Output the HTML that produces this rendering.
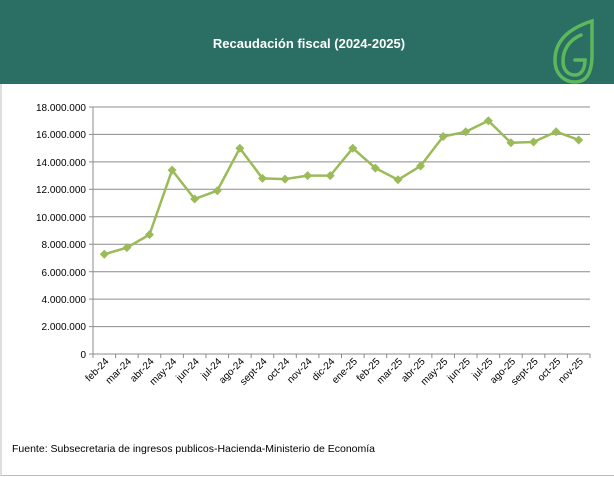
<!DOCTYPE html>
<html><head><meta charset="utf-8"><style>
html,body{margin:0;padding:0;background:#fff;}
svg{display:block;font-family:"Liberation Sans",sans-serif;}
</style></head><body>
<svg width="614" height="477" viewBox="0 0 614 477" xmlns="http://www.w3.org/2000/svg">
<rect x="0" y="0" width="614" height="477" fill="#fff"/>
<rect x="0" y="0" width="614" height="84" fill="#2b6e63"/>
<line x1="1" y1="84" x2="1" y2="476" stroke="#bdbdbd"/>
<line x1="1" y1="475.5" x2="614" y2="475.5" stroke="#bdbdbd"/>
<text x="309" y="48" text-anchor="middle" fill="#fff" font-size="13" font-weight="bold">Recaudación fiscal (2024-2025)</text>
<g fill="none" stroke="#5cb85c" stroke-width="3.5" stroke-linecap="round">
<path d="M592,21 C570,28 555,40 555,60 C555,75 565,82 575,82 C588,82 592,70 592,55 Z"/>
<path d="M581,35 C569,40 563,50 563,61 C563,70 568,75 575,75 C582,75 585,68 585,60 L575,60"/>
</g>
<g stroke="#8c8c8c" stroke-width="1">
<line x1="93" y1="107" x2="590" y2="107"/>
<line x1="93" y1="134.4" x2="590" y2="134.4"/>
<line x1="93" y1="161.9" x2="590" y2="161.9"/>
<line x1="93" y1="189.3" x2="590" y2="189.3"/>
<line x1="93" y1="216.8" x2="590" y2="216.8"/>
<line x1="93" y1="244.2" x2="590" y2="244.2"/>
<line x1="93" y1="271.7" x2="590" y2="271.7"/>
<line x1="93" y1="299.1" x2="590" y2="299.1"/>
<line x1="93" y1="326.6" x2="590" y2="326.6"/>
<line x1="93" y1="354" x2="590" y2="354"/>
<line x1="93" y1="107" x2="93" y2="354"/>
<line x1="89" y1="107" x2="93" y2="107"/><line x1="89" y1="134.4" x2="93" y2="134.4"/><line x1="89" y1="161.9" x2="93" y2="161.9"/><line x1="89" y1="189.3" x2="93" y2="189.3"/><line x1="89" y1="216.8" x2="93" y2="216.8"/><line x1="89" y1="244.2" x2="93" y2="244.2"/><line x1="89" y1="271.7" x2="93" y2="271.7"/><line x1="89" y1="299.1" x2="93" y2="299.1"/><line x1="89" y1="326.6" x2="93" y2="326.6"/><line x1="89" y1="354" x2="93" y2="354"/>
</g>
<g font-size="10" text-anchor="end" fill="#000">
<text x="86" y="111">18.000.000</text>
<text x="86" y="138">16.000.000</text>
<text x="86" y="166">14.000.000</text>
<text x="86" y="193">12.000.000</text>
<text x="86" y="221">10.000.000</text>
<text x="86" y="248">8.000.000</text>
<text x="86" y="276">6.000.000</text>
<text x="86" y="303">4.000.000</text>
<text x="86" y="330">2.000.000</text>
<text x="86" y="358">0</text>
</g>
<g id="ticks" stroke="#8c8c8c"></g>
<g id="labels" font-size="10" text-anchor="end" fill="#000"></g>
<polyline id="line" fill="none" stroke="#9bbb59" stroke-width="2.5" stroke-linejoin="round"/>
<g id="marks" fill="#9bbb59"></g>
<text x="12" y="452" font-size="10.5" fill="#000">Fuente: Subsecretaria de ingresos publicos-Hacienda-Ministerio de Economía</text>
<script>
var labs=["feb-24","mar-24","abr-24","may-24","jun-24","jul-24","ago-24","sept-24","oct-24","nov-24","dic-24","ene-25","feb-25","mar-25","abr-25","may-25","jun-25","jul-25","ago-25","sept-25","oct-25","nov-25"];
var v=[7.27,7.75,8.7,13.4,11.3,11.9,15.0,12.8,12.75,13.0,13.0,15.0,13.55,12.7,13.7,15.85,16.2,17.0,15.4,15.45,16.2,15.6];
var ns="http://www.w3.org/2000/svg",w=(590-93)/22,pts=[];
var T=document.getElementById("ticks"),L=document.getElementById("labels"),M=document.getElementById("marks");
for(var i=0;i<=22;i++){var l=document.createElementNS(ns,"line");var x=93+i*w;l.setAttribute("x1",x);l.setAttribute("x2",x);l.setAttribute("y1",354);l.setAttribute("y2",358);T.appendChild(l);}
for(var i=0;i<22;i++){var x=93+w*(i+0.5),y=354-v[i]/2*27.44;pts.push(x+","+y);
var t=document.createElementNS(ns,"text");t.setAttribute("transform","translate("+(x+5)+",362) rotate(-45)");t.textContent=labs[i];L.appendChild(t);
var p=document.createElementNS(ns,"path");p.setAttribute("d","M"+x+","+(y-4.5)+"L"+(x+4.5)+","+y+"L"+x+","+(y+4.5)+"L"+(x-4.5)+","+y+"Z");M.appendChild(p);}
document.getElementById("line").setAttribute("points",pts.join(" "));
</script>
</svg>
</body></html>
